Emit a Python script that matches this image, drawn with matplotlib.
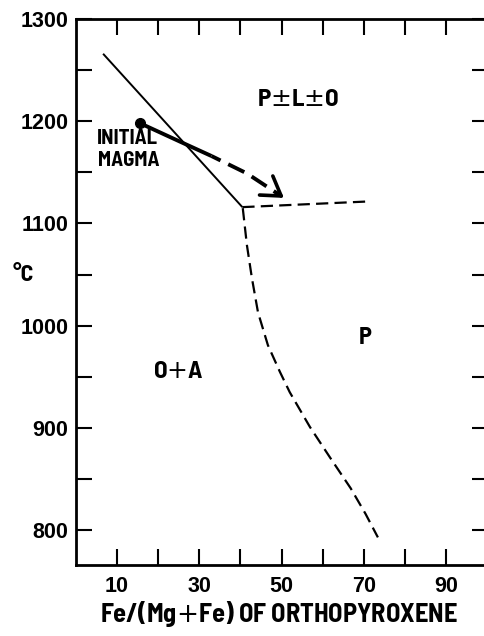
import matplotlib
matplotlib.use("Agg")
import matplotlib.pyplot as plt

plt.rcParams['mathtext.fontset'] = 'dejavusans'

# ---- data ----
solid_x = [6.7, 40.5]
solid_y = [1266, 1116]

horiz_x = [40.5, 70.8]
horiz_y = [1116, 1121.5]

curve_x = [40.6, 41.6, 42.8, 44.3, 46.7, 49.6, 52.0, 56.9, 61.8, 66.8, 70.4, 73.4]
curve_y = [1115, 1079, 1047, 1013, 981, 955, 935, 901, 871, 841, 816, 793]

path_solid_x = [15.7, 25.4, 33.0]
path_solid_y = [1198, 1180, 1166]
path_dash_x = [33.0, 41.6, 49.5]
path_dash_y = [1166, 1149, 1128]
arrow_tip = (50.6, 1125)

xtick_major = [10, 30, 50, 70, 90]
xtick_minor = [20, 40, 60, 80]
ytick_major = [800, 900, 1000, 1100, 1200, 1300]
ytick_minor = [850, 950, 1050, 1150, 1250]

SEMI = ['Barlow Semi Condensed', 'DejaVu Sans']
REG = ['Liberation Sans', 'DejaVu Sans']

fig = plt.figure(figsize=(4.84, 6.36), dpi=100)
ax = fig.add_axes([75.5 / 484, 1 - 565 / 636, 412 / 484, 546 / 636])
ax.set_xlim(0, 100)
ax.set_ylim(766, 1300)

ax.plot(solid_x, solid_y, color='black', lw=1.4, solid_capstyle='butt')
ax.plot(horiz_x, horiz_y, color='black', lw=1.6, linestyle=(0, (5.5, 2.8)))
ax.plot(curve_x, curve_y, color='black', lw=1.6, linestyle=(0, (5.5, 2.8)))

ax.plot(path_solid_x, path_solid_y, color='black', lw=2.8, solid_capstyle='butt')
ax.plot(path_solid_x[:1], path_solid_y[:1], 'o', color='black', ms=7)
ax.plot(path_dash_x, path_dash_y, color='black', lw=2.8, linestyle=(2.0, (4.6, 2.2)),
        dash_capstyle='butt')
ax.annotate('', xy=arrow_tip, xytext=(49.0, 1129.5),
            arrowprops=dict(arrowstyle='->,head_length=0.6,head_width=0.38',
                            lw=2.6, color='black', shrinkA=0, shrinkB=0,
                            mutation_scale=22),
            annotation_clip=False)

ax.set_xticks(xtick_major)
ax.set_xticks(xtick_minor, minor=True)
ax.set_yticks(ytick_major)
ax.set_yticks(ytick_minor, minor=True)
ax.set_xticklabels([str(v) for v in xtick_major])
ax.set_yticklabels([str(v) for v in ytick_major])
ax.tick_params(which='both', direction='in', length=11.5, width=1.5,
               top=True, right=True, labelsize=15.5)
ax.tick_params(axis='x', which='both', pad=8)
ax.tick_params(axis='y', which='both', pad=5)
for lab in ax.get_xticklabels() + ax.get_yticklabels():
    lab.set_family(REG)
    lab.set_fontweight('bold')
for s in ax.spines.values():
    s.set_linewidth(2)

ax.text(54, 1221, r'P$\pm$L$\pm$O', ha='center', va='center', fontsize=18,
        fontweight=700, family=SEMI)
ax.text(24.9, 955, r'O$+$A', ha='center', va='center', fontsize=18,
        fontweight=700, family=SEMI)
ax.text(70.3, 988, 'P', ha='center', va='center', fontsize=17.5,
        fontweight=700, family=SEMI)
ax.text(12.6, 1183, 'INITIAL', ha='center', va='center', fontsize=15,
        fontweight=700, family=SEMI)
ax.text(12.9, 1162, 'MAGMA', ha='center', va='center', fontsize=15,
        fontweight=700, family=SEMI)

fig.text(23 / 484, 1 - 275 / 636, '\u00b0C', ha='center', va='center',
         fontsize=17, fontweight=700, family=SEMI)
fig.text(279 / 484, 1 - 614 / 636, r'Fe/(Mg$+$Fe) OF ORTHOPYROXENE', ha='center',
         va='center', fontsize=19, fontweight=700, family=SEMI)

fig.savefig('out.png', dpi=100)
